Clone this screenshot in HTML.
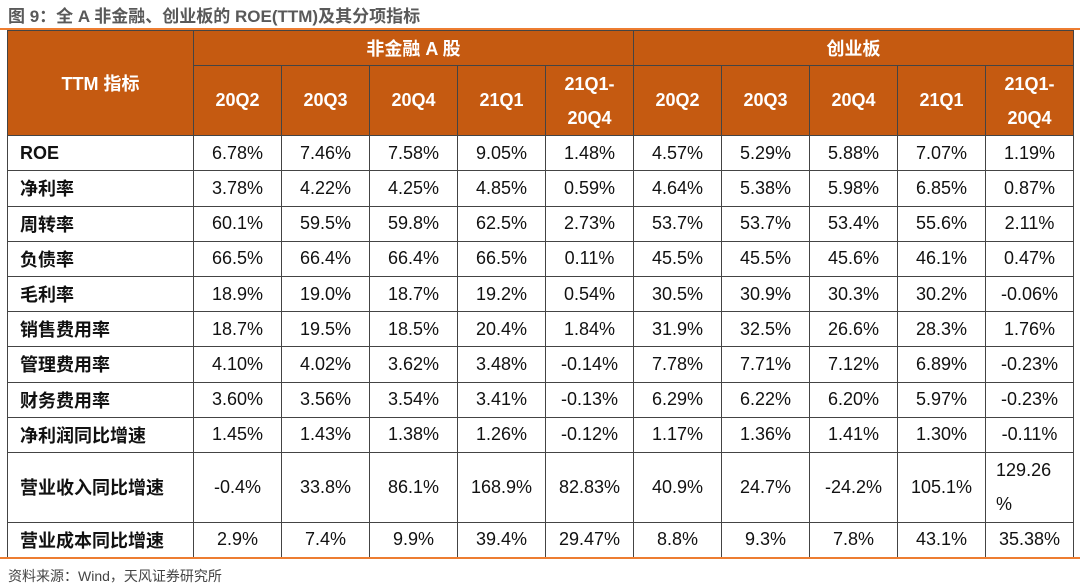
<!DOCTYPE html>
<html><head><meta charset="utf-8"><style>
body{margin:0;width:1080px;height:585px;background:#fff;font-family:"Liberation Sans","Noto Sans CJK SC",sans-serif;position:relative;overflow:hidden}
.title{position:absolute;left:8px;top:2px;font-size:17px;font-weight:bold;color:#595959}
.line{position:absolute;left:0;width:1080px;height:2px;background:#ED7D31}
table{position:absolute;left:7px;top:30px;border-collapse:collapse;table-layout:fixed;width:1066px}
td,th{border:1.5px solid #444;text-align:center;font-size:18px;color:#111;padding:0;height:34.2px;vertical-align:middle}
th{background:#C55A11;color:#fff;font-weight:bold;font-size:18px}
td.l{text-align:left;padding-left:12px;font-weight:bold}
.src{position:absolute;left:8px;top:566px;font-size:14px;color:#444}
</style></head><body>
<div class="title">图 9：全 A 非金融、创业板的 ROE(TTM)及其分项指标</div>
<div class="line" style="top:28px"></div>
<table>
<colgroup><col style="width:186px"><col span="10" style="width:88px"></colgroup>
<tr style="height:35px"><th rowspan="2">TTM 指标</th><th colspan="5">非金融 A 股</th><th colspan="5">创业板</th></tr>
<tr style="height:70px"><th>20Q2</th><th>20Q3</th><th>20Q4</th><th>21Q1</th><th style="line-height:34px">21Q1-<br>20Q4</th><th>20Q2</th><th>20Q3</th><th>20Q4</th><th>21Q1</th><th style="line-height:34px">21Q1-<br>20Q4</th></tr>
<tr><td class="l">ROE</td><td>6.78%</td><td>7.46%</td><td>7.58%</td><td>9.05%</td><td>1.48%</td><td>4.57%</td><td>5.29%</td><td>5.88%</td><td>7.07%</td><td>1.19%</td></tr>
<tr><td class="l">净利率</td><td>3.78%</td><td>4.22%</td><td>4.25%</td><td>4.85%</td><td>0.59%</td><td>4.64%</td><td>5.38%</td><td>5.98%</td><td>6.85%</td><td>0.87%</td></tr>
<tr><td class="l">周转率</td><td>60.1%</td><td>59.5%</td><td>59.8%</td><td>62.5%</td><td>2.73%</td><td>53.7%</td><td>53.7%</td><td>53.4%</td><td>55.6%</td><td>2.11%</td></tr>
<tr><td class="l">负债率</td><td>66.5%</td><td>66.4%</td><td>66.4%</td><td>66.5%</td><td>0.11%</td><td>45.5%</td><td>45.5%</td><td>45.6%</td><td>46.1%</td><td>0.47%</td></tr>
<tr><td class="l">毛利率</td><td>18.9%</td><td>19.0%</td><td>18.7%</td><td>19.2%</td><td>0.54%</td><td>30.5%</td><td>30.9%</td><td>30.3%</td><td>30.2%</td><td>-0.06%</td></tr>
<tr><td class="l">销售费用率</td><td>18.7%</td><td>19.5%</td><td>18.5%</td><td>20.4%</td><td>1.84%</td><td>31.9%</td><td>32.5%</td><td>26.6%</td><td>28.3%</td><td>1.76%</td></tr>
<tr><td class="l">管理费用率</td><td>4.10%</td><td>4.02%</td><td>3.62%</td><td>3.48%</td><td>-0.14%</td><td>7.78%</td><td>7.71%</td><td>7.12%</td><td>6.89%</td><td>-0.23%</td></tr>
<tr><td class="l">财务费用率</td><td>3.60%</td><td>3.56%</td><td>3.54%</td><td>3.41%</td><td>-0.13%</td><td>6.29%</td><td>6.22%</td><td>6.20%</td><td>5.97%</td><td>-0.23%</td></tr>
<tr><td class="l">净利润同比增速</td><td>1.45%</td><td>1.43%</td><td>1.38%</td><td>1.26%</td><td>-0.12%</td><td>1.17%</td><td>1.36%</td><td>1.41%</td><td>1.30%</td><td>-0.11%</td></tr>
<tr style="height:70px"><td class="l">营业收入同比增速</td><td>-0.4%</td><td>33.8%</td><td>86.1%</td><td>168.9%</td><td>82.83%</td><td>40.9%</td><td>24.7%</td><td>-24.2%</td><td>105.1%</td><td style="text-align:left;padding-left:10px;line-height:34px">129.26<br>%</td></tr>
<tr><td class="l">营业成本同比增速</td><td>2.9%</td><td>7.4%</td><td>9.9%</td><td>39.4%</td><td>29.47%</td><td>8.8%</td><td>9.3%</td><td>7.8%</td><td>43.1%</td><td>35.38%</td></tr>
</table>
<div class="line" style="top:557px"></div>
<div class="src">资料来源：Wind，天风证券研究所</div>
</body></html>
